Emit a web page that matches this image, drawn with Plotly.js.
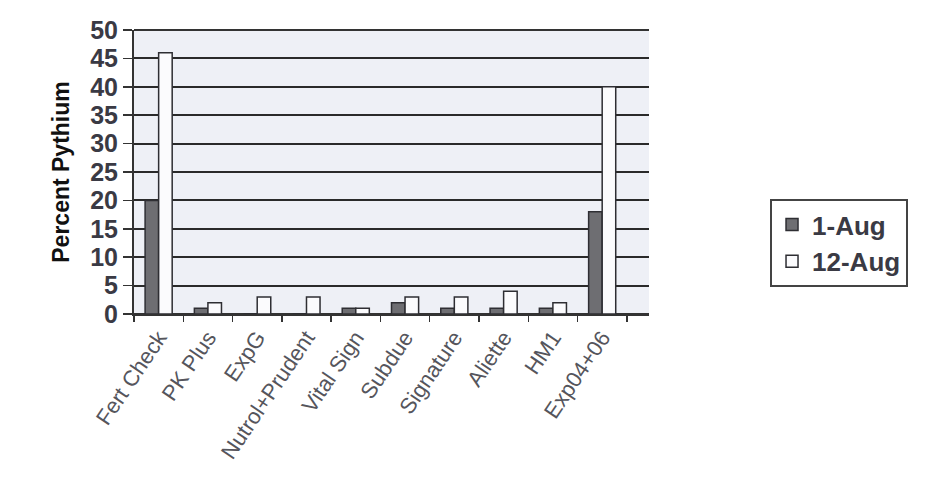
<!DOCTYPE html>
<html>
<head>
<meta charset="utf-8">
<script src="https://cdn.plot.ly/plotly-3.0.1.min.js"></script>
<style>html,body{margin:0;padding:0;background:#fff;}#chart{width:932px;height:478px;}</style>
</head>
<body>
<div id="chart"></div>
<script>
const categories = ["Fert Check","PK Plus","ExpG","Nutrol+Prudent","Vital Sign","Subdue","Signature","Aliette","HM1","Exp04+06"];
const aug1 = [20, 1, 0, 0, 1, 2, 1, 1, 1, 18];
const aug12 = [46, 2, 3, 3, 1, 3, 3, 4, 2, 40];
const seriesNames = ["1-Aug", "12-Aug"];
const yTicks = [0,5,10,15,20,25,30,35,40,45,50];

const FONT = 'Liberation Sans, Arial, sans-serif';

const traces = [
  {type:'bar', name: seriesNames[0], x: categories, y: aug1,
   marker:{color:'#6e6e72', line:{color:'#2e2e33', width:1.5}}},
  {type:'bar', name: seriesNames[1], x: categories, y: aug12,
   marker:{color:'#fbfbfd', line:{color:'#2e2e33', width:1.5}}}
];

const layout = {
  width: 932, height: 478,
  margin: {l:134, r:283, t:30, b:164},
  paper_bgcolor:'#ffffff',
  plot_bgcolor:'#eef0f6',
  barmode:'group',
  bargap:0.45,
  bargroupgap:0,
  showlegend:true,
  legend:{x:1.235, y:0.405, xanchor:'left', yanchor:'top',
    bgcolor:'#ffffff', bordercolor:'#444', borderwidth:2,
    font:{family:FONT, size:26, color:'#3a3a44', weight:'bold'},
    tracegroupgap:2, itemwidth:30},
  xaxis:{type:'category', range:[-0.5, 9.95], tickangle:-56,
    tickfont:{family:FONT, size:22, color:'#55555c'},
    showline:true, linecolor:'#333', linewidth:2,
    ticks:'outside', ticklen:6, tickcolor:'#333', tickwidth:1.5,
    tickson:'boundaries', showgrid:false, fixedrange:true},
  yaxis:{range:[0,50], tickvals:yTicks, ticktext: yTicks.map(String),
    tickfont:{family:FONT, size:25, color:'#3a3a44', weight:'bold'},
    showline:true, linecolor:'#333', linewidth:2,
    ticks:'outside', ticklen:9, tickcolor:'#333', tickwidth:1.5,
    showgrid:true, gridcolor:'#2a2a2a', gridwidth:2,
    zeroline:true, zerolinecolor:'#333', zerolinewidth:2,
    title:{text:'Percent Pythium', standoff:14,
      font:{family:FONT, size:23, color:'#111', weight:'bold'}},
    mirror:false, fixedrange:true},
  shapes:[
    {type:'line', xref:'paper', yref:'paper', x0:0, x1:1, y0:1, y1:1, line:{color:'#333', width:2}}
  ]
};

Plotly.newPlot('chart', traces, layout, {displayModeBar:false, staticPlot:true});
</script>
</body>
</html>
